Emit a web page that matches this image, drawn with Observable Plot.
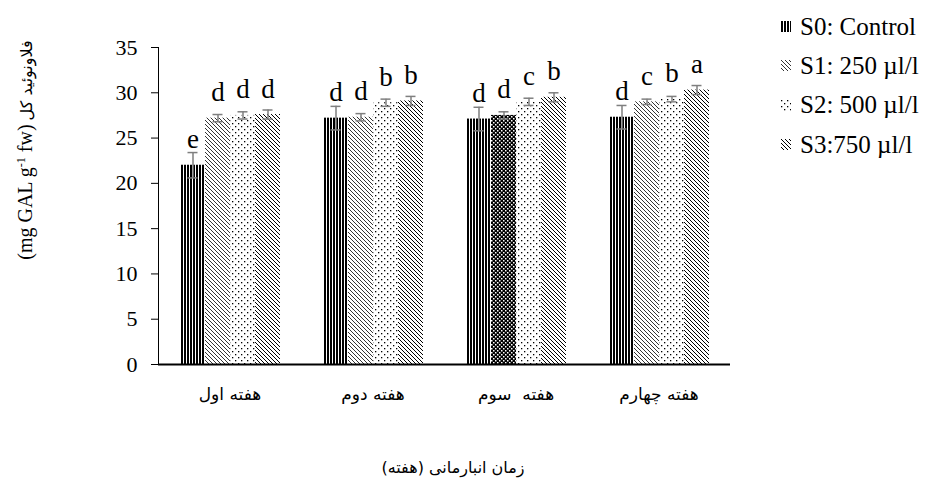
<!DOCTYPE html>
<html>
<head>
<meta charset="utf-8">
<script src="https://cdn.jsdelivr.net/npm/d3@7"></script>
<script src="https://cdn.jsdelivr.net/npm/@observablehq/plot@0.6"></script>
<style>
  body { margin: 0; background: #fff; }
  #fig { position: relative; width: 925px; height: 481px; overflow: hidden; color: #000;
         font-family: "Liberation Serif", "Times New Roman", Tinos, "DejaVu Serif", serif; }
  #fig > svg.chart { position: absolute; left: 0; top: 0; }
  .legend { position: absolute; left: 781px; top: 7px; }
  .legend .row { display: flex; align-items: center; height: 39.3px; font-size: 25px; white-space: nowrap; }
  .legend .row svg { margin-right: 9px; }
  .ytitle { position: absolute; left: 25px; top: 150px; transform: translate(-50%, -50%) rotate(-90deg);
            white-space: nowrap; direction: ltr; }
  .ytitle .lat { font-family: "Liberation Serif", "Times New Roman", Tinos, "DejaVu Serif", serif; font-size: 20px; }
  .ytitle .fa { font-family: "DejaVu Sans", sans-serif; font-size: 16px; }
  .xtitle { position: absolute; left: 453px; top: 467px; transform: translate(-50%, -50%);
            white-space: nowrap; font-family: "DejaVu Sans", sans-serif; font-size: 16px; direction: rtl; }
</style>
</head>
<body>
<div id="fig"></div>
<script>
// Storage weeks (categories) and treatments (series)
const weeks = ["هفته اول", "هفته دوم", "هفته  سوم", "هفته چهارم"];
const seriesKeys = ["S0", "S1", "S2", "S3"];
const seriesLabels = ["S0: Control", "S1: 250 µl/l", "S2: 500 µl/l", "S3:750 µl/l"];

// Total flavonoid content (mg GAL g-1 fw), one value per week
const S0 = [22.0, 27.2, 27.1, 27.3];
const S1 = [27.2, 27.3, 27.5, 29.0];
const S2 = [27.5, 28.9, 29.0, 29.3];
const S3 = [27.6, 29.1, 29.5, 30.3];

// Standard errors
const S0err = [1.4, 1.3, 1.3, 1.3];
const S1err = [0.4, 0.4, 0.4, 0.3];
const S2err = [0.4, 0.4, 0.4, 0.3];
const S3err = [0.5, 0.5, 0.5, 0.5];

// Mean-separation letters
const S0letters = ["e", "d", "d", "d"];
const S1letters = ["d", "d", "d", "c"];
const S2letters = ["d", "b", "c", "b"];
const S3letters = ["d", "b", "b", "a"];

// Y axis ticks
const yTicks = [0, 5, 10, 15, 20, 25, 30, 35];

const values = [S0, S1, S2, S3];
const errs = [S0err, S1err, S2err, S3err];
const letters = [S0letters, S1letters, S2letters, S3letters];

const rows = weeks.flatMap((week, i) =>
  seriesKeys.map((series, j) => ({
    week, series,
    value: values[j][i],
    err: errs[j][i],
    letter: letters[j][i]
  }))
);

const serifFont = '"Liberation Serif", "Times New Roman", Tinos, "DejaVu Serif", serif';

// Hatch patterns shared by the bars and the legend swatches
const fig = d3.select("#fig");
const defsSvg = fig.append("svg").attr("width", 0).attr("height", 0)
  .style("position", "absolute");
const defs = defsSvg.append("defs");

function pattern(id, w, h, build) {
  const p = defs.append("pattern").attr("id", id).attr("patternUnits", "userSpaceOnUse")
    .attr("width", w).attr("height", h);
  p.append("rect").attr("width", w).attr("height", h).attr("fill", "#fff");
  build(p);
}
// S0: vertical stripes
pattern("pat-s0", 3, 6, p => p.append("rect").attr("x", 0).attr("width", 2).attr("height", 6).attr("fill", "#000"));
// S1: fine downward diagonal lines
pattern("pat-s1", 4, 4, p => p.append("path")
  .attr("d", "M-1,-1L5,5M-1,3L1,5M3,-1L5,1").attr("stroke", "#000").attr("stroke-width", 0.8));
// S2: sparse dots
pattern("pat-s2", 6, 6, p => {
  p.append("rect").attr("x", 0).attr("y", 0).attr("width", 1.3).attr("height", 1.3).attr("fill", "#000");
  p.append("rect").attr("x", 3).attr("y", 3).attr("width", 1.3).attr("height", 1.3).attr("fill", "#000");
});
// S3: slightly heavier downward diagonal lines
pattern("pat-s3", 4, 4, p => p.append("path")
  .attr("d", "M-1,-1L5,5M-1,3L1,5M3,-1L5,1").attr("stroke", "#000").attr("stroke-width", 1.0));
// Diamond grid used for the week-three S1 bar
pattern("pat-grid", 4, 4, p => {
  p.append("rect").attr("width", 4).attr("height", 4).attr("fill", "#000");
  p.append("rect").attr("x", 0).attr("y", 0).attr("width", 1.5).attr("height", 1.5).attr("fill", "#fff");
  p.append("rect").attr("x", 2).attr("y", 2).attr("width", 1.5).attr("height", 1.5).attr("fill", "#fff");
});

const patternFor = {S0: "url(#pat-s0)", S1: "url(#pat-s1)", S2: "url(#pat-s2)", S3: "url(#pat-s3)"};
const barFill = d => (d.week === weeks[2] && d.series === "S1") ? "url(#pat-grid)" : patternFor[d.series];

const chart = Plot.plot({
  width: 925,
  height: 481,
  marginLeft: 157,
  marginRight: 195,
  marginTop: 47,
  marginBottom: 117,
  style: {fontFamily: serifFont, fontSize: "22px", color: "#000", background: "transparent"},
  fx: {domain: weeks, padding: 0, label: null},
  x: {domain: seriesKeys, paddingInner: 0, paddingOuter: 0.755, axis: null},
  y: {domain: [0, 35], ticks: yTicks, tickSize: 7, tickPadding: 14, line: true, label: null},
  color: {type: "identity"},
  marks: [
    Plot.axisFx({anchor: "bottom", tickSize: 0, tickPadding: 23, label: null,
      fontSize: 17, fontFamily: "DejaVu Sans"}),
    Plot.barY(rows, {fx: "week", x: "series", y: "value", fill: barFill}),
    Plot.ruleY([0], {stroke: "#000", strokeWidth: 2}),
    Plot.ruleX(rows, {fx: "week", x: "series", y1: d => d.value - d.err, y2: d => d.value + d.err,
      stroke: "#7f7f7f", strokeWidth: 1.5}),
    Plot.tickY(rows, {fx: "week", x: "series", y: d => d.value + d.err,
      stroke: "#7f7f7f", strokeWidth: 1.5, insetLeft: 7.5, insetRight: 7.5}),
    Plot.tickY(rows, {fx: "week", x: "series", y: d => d.value - d.err,
      stroke: "#7f7f7f", strokeWidth: 1.5, insetLeft: 7.5, insetRight: 7.5}),
    Plot.text(rows, {fx: "week", x: "series", y: "value", text: "letter", dy: -17,
      lineAnchor: "bottom", fontSize: 27, fontFamily: serifFont})
  ]
});
chart.classList.add("chart");
fig.node().appendChild(chart);

// Legend
const legend = fig.append("div").attr("class", "legend");
seriesKeys.forEach((k, i) => {
  const row = legend.append("div").attr("class", "row");
  row.append("svg").attr("width", 10).attr("height", 11)
    .append("rect").attr("width", 10).attr("height", 11).attr("fill", patternFor[k]);
  row.append("span").text(seriesLabels[i]);
});

// Axis titles
fig.append("div").attr("class", "ytitle")
  .html('<span class="lat">(mg GAL g<sup style="font-size:12px">-1</sup> fw)</span> <span class="fa">فلاونوئید کل</span>');
fig.append("div").attr("class", "xtitle").text("زمان انبارمانی (هفته)");
</script>
</body>
</html>
